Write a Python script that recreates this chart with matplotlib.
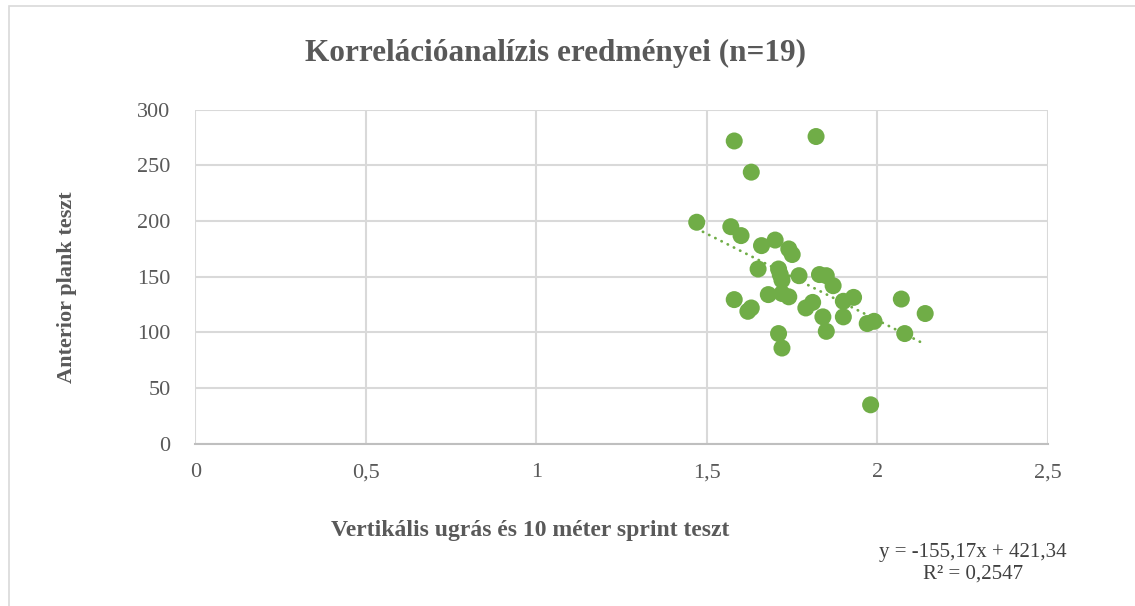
import matplotlib.pyplot as plt
import numpy as np

# scatter data
sprint = [1.47, 1.57, 1.58, 1.58, 1.60, 1.62, 1.63, 1.63, 1.65, 1.66,
          1.68, 1.70, 1.71, 1.715, 1.72, 1.72, 1.74, 1.74, 1.75, 1.77,
          1.79, 1.81, 1.82, 1.83, 1.85, 1.84, 1.85, 1.87, 1.90, 1.93,
          1.90, 1.97, 1.99, 2.07, 2.08, 2.14, 1.71, 1.72, 1.98]
plank = [199, 195, 272, 129.5, 187, 119, 122, 244, 157, 178,
         134, 183, 157, 152, 147, 135, 132, 175, 170, 151,
         122, 127, 276, 152, 151, 114, 101, 142, 128, 131.5,
         114, 108, 110, 130, 99, 117, 99, 86, 35]

# linear trendline shown on the chart
slope = -155.17
intercept = 421.34
r2 = 0.2547

xticks = [0, 0.5, 1, 1.5, 2, 2.5]
xtick_labels = ['0', '0,5', '1', '1,5', '2', '2,5']
yticks = [0, 50, 100, 150, 200, 250, 300]

green = '#70AD47'
gray = '#595959'
grid = '#D9D9D9'

plt.rcParams['font.family'] = ['Liberation Serif', 'DejaVu Serif']

fig = plt.figure(figsize=(11.35, 6.06), dpi=100)
ax = fig.add_axes([0.1722, 0.2677, 0.7511, 0.5511])

# outer chart border (cropped at right and bottom)
fig.add_artist(plt.Rectangle((9 / 1135, -0.1), 1.2, 1 - 6 / 606 + 0.1,
                             transform=fig.transFigure, fill=False,
                             edgecolor=grid, linewidth=1.2))

ax.scatter(sprint, plank, s=150, color=green, edgecolors='none', zorder=3)

xs = np.array([min(sprint), max(sprint)])
ax.plot(xs, slope * xs + intercept, color=green, linewidth=2,
        linestyle=(0, (0.1, 2.4)), dash_capstyle='round', zorder=4)

ax.set_xlim(0, 2.5)
ax.set_ylim(0, 300)
ax.set_xticks(xticks)
ax.set_xticklabels(xtick_labels)
ax.set_yticks(yticks)
ax.grid(True, color=grid, linewidth=1.5)
ax.set_axisbelow(True)
for side in ['top', 'right', 'left']:
    ax.spines[side].set_visible(False)
ax.spines['bottom'].set_color('#BFBFBF')
ax.spines['bottom'].set_linewidth(1.5)
ax.tick_params(length=0, labelsize=16, labelcolor=gray)
ax.tick_params(axis='x', pad=14)
ax.tick_params(axis='y', pad=18)

fig.text(0.4894, 0.912, 'Korrelációanalízis eredményei (n=19)', ha='center',
         va='center', fontsize=22.5, fontweight='bold', color=gray)
fig.text(0.467, 0.125, 'Vertikális ugrás és 10 méter sprint teszt', ha='center',
         va='center', fontsize=17, fontweight='bold', color=gray)
fig.text(0.0586, 0.526, 'Anterior plank teszt', ha='center', va='center',
         rotation=90, fontsize=16, fontweight='bold', color=gray)

eq = 'y = {}x + {}\nR² = {}'.format(str(slope).replace('.', ','),
                                   str(intercept).replace('.', ','),
                                   str(r2).replace('.', ','))
fig.text(0.857, 0.071, eq, ha='center', va='center', fontsize=15,
         color='#404040', linespacing=1.2)

fig.savefig('out.png', dpi=100)
